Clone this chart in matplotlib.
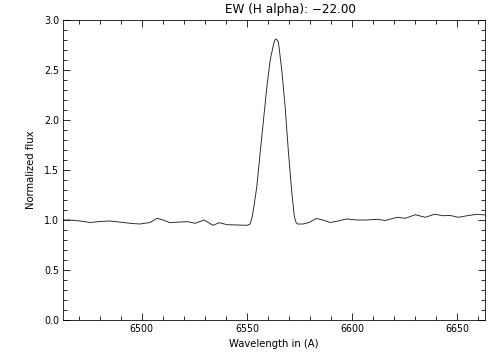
import numpy as np
import matplotlib
matplotlib.use("Agg")
import matplotlib.pyplot as plt
from matplotlib.ticker import MultipleLocator

# spectrum (wavelength in A, normalized flux)
wave = [6462.5, 6465.8, 6470.6, 6475.4, 6480.1, 6484.9, 6491.1, 6495.4, 6499.2,
        6503.9, 6507.3, 6510.1, 6513.5, 6518.2, 6522.0, 6525.4, 6529.6, 6533.9,
        6536.8, 6540.6, 6545.4, 6550.1, 6551.5, 6552.3, 6553.1, 6554.7, 6556.3,
        6557.9, 6559.5, 6561.1, 6562.6, 6563.3, 6563.9, 6565.0, 6566.6, 6568.2,
        6569.8, 6571.4, 6572.6, 6573.4, 6574.1, 6576.8, 6579.6, 6583.0, 6586.3,
        6589.6, 6593.4, 6597.3, 6602.4, 6607.1, 6611.9, 6615.8, 6621.5, 6625.4,
        6630.1, 6634.9, 6639.2, 6643.5, 6646.8, 6650.6, 6655.4, 6659.6, 6663.4]
flux = [1.00, 1.00, 0.99, 0.975, 0.985, 0.99, 0.975, 0.965, 0.96,
        0.975, 1.017, 1.00, 0.973, 0.98, 0.983, 0.967, 1.00, 0.947,
        0.973, 0.953, 0.95, 0.947, 0.96, 1.01, 1.10, 1.33, 1.67,
        2.00, 2.33, 2.60, 2.75, 2.80, 2.81, 2.78, 2.50, 2.13,
        1.67, 1.27, 1.03, 0.975, 0.96, 0.96, 0.975, 1.015, 1.00,
        0.975, 0.99, 1.01, 1.00, 1.00, 1.007, 0.995, 1.027, 1.017,
        1.053, 1.027, 1.057, 1.043, 1.045, 1.027, 1.045, 1.057, 1.05]
ew = -22.00

fig = plt.figure(figsize=(7, 5), dpi=72)
ax = fig.add_axes([63/504, 40/360, 422/504, 300/360])
ax.plot(wave, flux, color="#222222", lw=0.9)

ax.set_xlim(6462.5, 6663.3)
ax.set_ylim(0.0, 3.0)
ax.xaxis.set_major_locator(MultipleLocator(50))
ax.xaxis.set_minor_locator(MultipleLocator(10))
ax.yaxis.set_major_locator(MultipleLocator(0.5))
ax.yaxis.set_minor_locator(MultipleLocator(0.1))
ax.yaxis.set_major_formatter(matplotlib.ticker.FormatStrFormatter("%.1f"))
ax.tick_params(which="both", direction="in", top=True, right=True,
               labelsize=9.5, color="black", width=0.8)
ax.tick_params(which="major", length=7, pad=4)
ax.tick_params(which="minor", length=4)
for s in ax.spines.values():
    s.set_linewidth(0.8)

ax.set_xlabel("Wavelength in (A)", fontsize=10, labelpad=5)
ax.set_ylabel("Normalized flux", fontsize=10, labelpad=8)
title = "EW (H alpha): %.2f" % ew
ax.text(0.54, 1.012, title.replace("-", "\u2212"), transform=ax.transAxes,
        ha="center", va="bottom", fontsize=12)

fig.savefig("out.png", dpi=72)
